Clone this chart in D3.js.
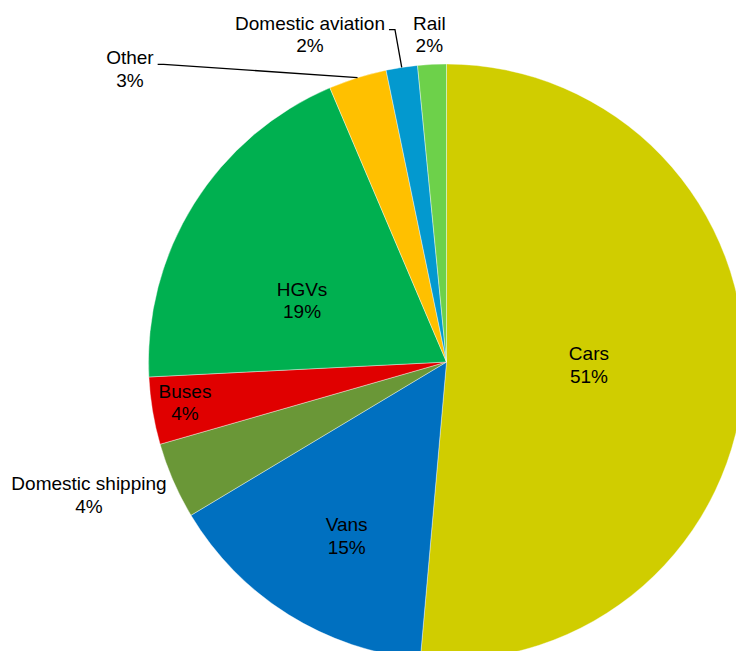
<!DOCTYPE html>
<html>
<head>
<meta charset="utf-8">
<script src="https://cdn.jsdelivr.net/npm/d3@7"></script>
<style>
  html, body { margin: 0; padding: 0; background: #fff; overflow: hidden; }
  svg { display: block; }
  text { font-family: "Liberation Sans", Arial, sans-serif; font-size: 19px; fill: #000; }
</style>
</head>
<body>
<svg id="chart" width="736" height="651"></svg>
<script>
// Share of domestic transport emissions by mode (%)
const categories = ["Cars", "Vans", "Domestic shipping", "Buses", "HGVs", "Other", "Domestic aviation", "Rail"];
const shares     = [51.4, 15.0, 4.15, 3.65, 19.4, 3.15, 1.7, 1.55];
const colours    = ["#d0cd00", "#0070c0", "#6a9737", "#e00000", "#00b050", "#ffc000", "#0399cf", "#6dd14a"];

// Label placement: polar position (degrees clockwise from 12 o'clock, fraction of radius)
const labelLayout = {
  "Cars":              { angle: 91.2,  r: 0.478, leader: false },
  "Vans":              { angle: 209.9, r: 0.672, leader: false },
  "Domestic shipping": { angle: 249.6, r: 1.280, leader: false },
  "Buses":             { angle: 261.2, r: 0.888, leader: false },
  "HGVs":              { angle: 293.1, r: 0.527, leader: false },
  "Other":             { angle: 312.8, r: 1.448, leader: true },
  "Domestic aviation": { angle: 337.4, r: 1.192, leader: true },
  "Rail":              { angle: 357.0, r: 1.102, leader: false }
};

const cx = 446.5, cy = 362, radius = 298;
const svg = d3.select("#chart");
const g = svg.append("g").attr("transform", `translate(${cx},${cy})`);

const data = categories.map((c, i) => ({ name: c, value: shares[i], colour: colours[i] }));
const total = d3.sum(shares);

const pie = d3.pie().value(d => d.value).sort(null);
const arc = d3.arc().innerRadius(0).outerRadius(radius);
const arcs = pie(data);

g.selectAll("path.slice")
  .data(arcs)
  .join("path")
  .attr("class", "slice")
  .attr("d", arc)
  .attr("fill", d => d.data.colour)
  .attr("stroke", "#ffffff")
  .attr("stroke-width", 0.4);

const polar = (deg, r) => {
  const a = deg * Math.PI / 180;
  return [Math.sin(a) * r, -Math.cos(a) * r];
};

const labels = g.selectAll("g.label")
  .data(arcs)
  .join("g")
  .attr("class", "label")
  .attr("transform", d => {
    const L = labelLayout[d.data.name];
    const [x, y] = polar(L.angle, L.r * radius);
    return `translate(${x},${y})`;
  });

labels.append("text")
  .attr("class", "name")
  .attr("text-anchor", "middle")
  .attr("y", -4.5)
  .text(d => d.data.name);

labels.append("text")
  .attr("text-anchor", "middle")
  .attr("y", 18)
  .text(d => Math.round(d.data.value / total * 100) + "%");

// Leader lines from the label to the middle of the slice's rim
labels.each(function (d) {
  const L = labelLayout[d.data.name];
  if (!L.leader) return;
  const [lx, ly] = polar(L.angle, L.r * radius);
  const w = d3.select(this).select("text.name").node().getComputedTextLength();
  const mid = (d.startAngle + d.endAngle) / 2;
  const px = Math.sin(mid) * radius, py = -Math.cos(mid) * radius;
  const sx = lx + w / 2 + 4, sy = ly - 4.5;
  g.append("polyline")
    .attr("points", [[sx, sy], [sx + 6, sy], [px, py]].map(p => p.join(",")).join(" "))
    .attr("fill", "none")
    .attr("stroke", "#000")
    .attr("stroke-width", 1.3);
});
</script>
</body>
</html>
